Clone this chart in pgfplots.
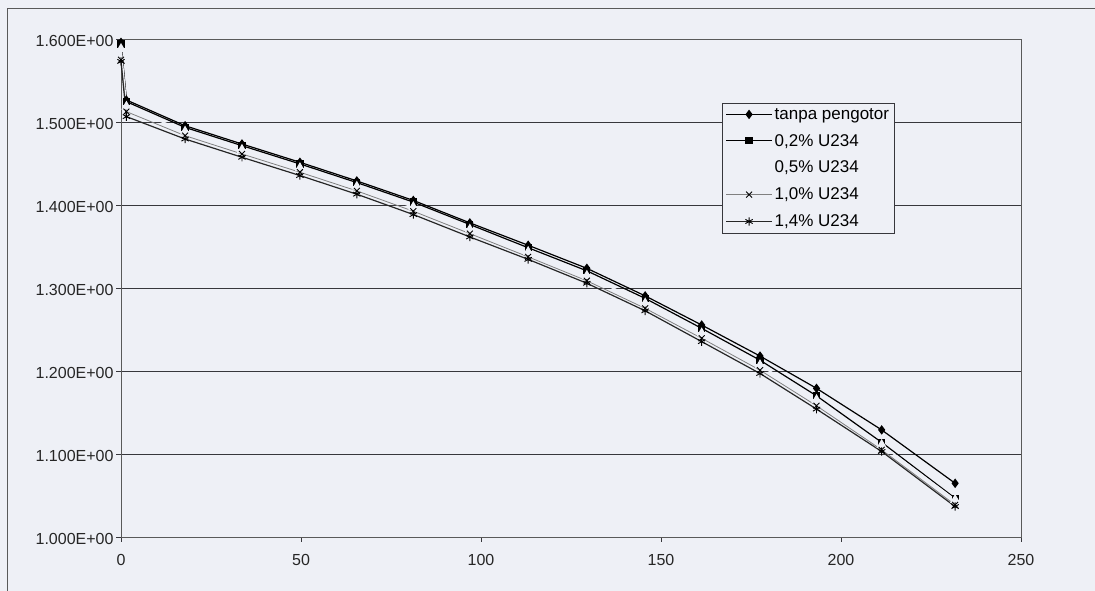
\documentclass[border=0pt]{standalone}
\usepackage{fontspec}
\setmainfont{Liberation Sans}
\usepackage{pgfplots}
\pgfplotsset{compat=1.18}
\definecolor{bgc}{RGB}{238,240,246}
\definecolor{gridc}{RGB}{55,55,60}
\begin{document}
\begin{tikzpicture}
\fill[bgc] (0pt,0pt) rectangle (1095pt,591pt);
\path[use as bounding box] (0pt,0pt) rectangle (1095pt,591pt);
\draw[gray!70!black, line width=0.8pt] (7pt,0pt) -- (7pt,583pt) -- (1095pt,583pt);
\begin{axis}[
  at={(121pt,54pt)}, anchor=south west,
  scale only axis, width=900pt, height=498pt,
  xmin=0, xmax=250, ymin=1, ymax=1.6,
  clip=false,
  axis line style={gray!70!black, line width=0.7pt},
  xtick={0,50,100,150,200,250},
  xticklabels={0,50,100,150,200,250},
  ytick={1.0,1.1,1.2,1.3,1.4,1.5,1.6},
  yticklabels={1.000E+00,1.100E+00,1.200E+00,1.300E+00,1.400E+00,1.500E+00,1.600E+00},
  ymajorgrids, grid style={gridc, line width=0.9pt},
  tick pos=left, tick align=outside, major tick length=5pt,
  tick style={gridc, line width=0.6pt},
  /pgf/number format/assume math mode=true,
  tick label style={font=\fontsize{16}{18}\selectfont, text=black!85},
  yticklabel style={xshift=1pt, yshift=-2pt},
  xticklabel style={yshift=-9pt},
  legend style={at={(0.668,0.8715)}, anchor=north west, draw=gridc, fill=bgc,
    font=\fontsize{17}{19}\selectfont, row sep=9.5pt, inner sep=3pt,
    nodes={inner sep=2pt}},
  legend cell align=left,
  legend image code/.code={\draw[mark repeat=2,mark phase=2,#1] plot coordinates {(0cm,0cm) (0.8cm,0cm) (1.6cm,0cm)};},
]
\addplot[black, line width=1.2pt, mark=diamond*, mark size=3.8pt, mark options={solid, fill=black}] coordinates {
(0,1.596) (1.5,1.5265) (17.8,1.4955) (33.6,1.4735) (49.7,1.4515) (65.5,1.4290) (81.2,1.4055) (96.9,1.3785)
(113.1,1.3515) (129.4,1.3237) (145.6,1.2905) (161.3,1.2554) (177.5,1.2180) (193.2,1.1791) (211.3,1.1290) (231.7,1.0647)};
\addlegendentry{tanpa pengotor}
\addplot[black, line width=1.2pt, mark=square*, mark size=3pt, mark options={solid, fill=black}] coordinates {
(0,1.594) (1.5,1.5245) (17.8,1.4935) (33.6,1.4715) (49.7,1.4495) (65.5,1.4270) (81.2,1.4035) (96.9,1.3765)
(113.1,1.3485) (129.4,1.3207) (145.6,1.2875) (161.3,1.2514) (177.5,1.2130) (193.2,1.1701) (211.3,1.1140) (231.7,1.0467)};
\addlegendentry{0,2\% U234}
\addplot[bgc, line width=1.8pt, mark=triangle*, mark size=4.2pt, mark options={solid, fill=bgc, draw=bgc}] coordinates {
(0,1.588) (1.5,1.5185) (17.8,1.4885) (33.6,1.4665) (49.7,1.4445) (65.5,1.4220) (81.2,1.3975) (96.9,1.3705)
(113.1,1.3435) (129.4,1.3147) (145.6,1.2815) (161.3,1.2454) (177.5,1.2070) (193.2,1.1651) (211.3,1.1110) (231.7,1.0447)};
\addlegendentry{0,5\% U234}
\addplot[gray, line width=0.8pt, mark=x, mark size=4.2pt, mark options={solid, draw=black, line width=0.9pt}] coordinates {
(0,1.575) (1.5,1.5125) (17.8,1.4835) (33.6,1.4615) (49.7,1.4395) (65.5,1.4170) (81.2,1.3925) (96.9,1.3655)
(113.1,1.3375) (129.4,1.3087) (145.6,1.2755) (161.3,1.2394) (177.5,1.2010) (193.2,1.1581) (211.3,1.1050) (231.7,1.0387)};
\addlegendentry{1,0\% U234}
\addplot[black!85, line width=1.2pt, mark=asterisk, mark size=4.2pt, mark options={solid, draw=black, line width=0.9pt}] coordinates {
(0,1.573) (1.5,1.5065) (17.8,1.4795) (33.6,1.4575) (49.7,1.4355) (65.5,1.4130) (81.2,1.3885) (96.9,1.3615)
(113.1,1.3345) (129.4,1.3057) (145.6,1.2725) (161.3,1.2354) (177.5,1.1970) (193.2,1.1541) (211.3,1.1030) (231.7,1.0367)};
\addlegendentry{1,4\% U234}
\end{axis}
\end{tikzpicture}
\end{document}
